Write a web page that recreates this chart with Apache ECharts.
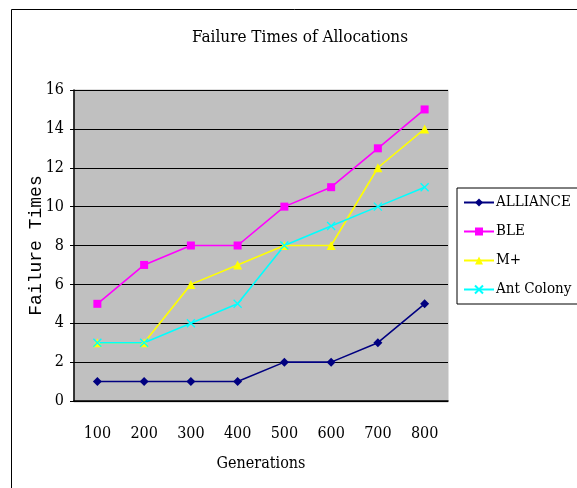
<!DOCTYPE html>
<html>
<head>
<meta charset="utf-8">
<script src="https://cdn.jsdelivr.net/npm/echarts@6/dist/echarts.min.js"></script>
<style>
  html, body { margin: 0; padding: 0; background: #fff; }
  #chart { width: 577px; height: 488px; }
</style>
</head>
<body>
<div id="chart"></div>
<script>
// Failure counts per generation for each allocation method
const generations = ['100', '200', '300', '400', '500', '600', '700', '800'];
const alliance = [1, 1, 1, 1, 2, 2, 3, 5];
const ble = [5, 7, 8, 8, 10, 11, 13, 15];
const mPlus = [3, 3, 6, 7, 8, 8, 12, 14];
const antColony = [3, 3, 4, 5, 8, 9, 10, 11];
const yTicks = [0, 2, 4, 6, 8, 10, 12, 14, 16];

const FONT = '"DejaVu Serif Condensed", "Liberation Serif", serif';
const MONO = '"Liberation Mono", "DejaVu Sans Mono", monospace';
const crossPath = 'path://M0,0L10,10M10,0L0,10';

const chart = echarts.init(document.getElementById('chart'));

function series(name, data, color, symbol, size) {
  return {
    name, type: 'line', data,
    symbol, symbolSize: size,
    z: 5,
    lineStyle: { color, width: 1.6 },
    itemStyle: { color, borderColor: color, borderWidth: symbol === crossPath ? 1.3 : 0 },
    emphasis: { disabled: true },
    animation: false
  };
}

chart.setOption({
  animation: false,
  backgroundColor: '#fff',
  textStyle: { fontFamily: FONT },
  graphic: [
    { type: 'rect', shape: { x: 11.5, y: 9.5, width: 600, height: 600 },
      style: { fill: 'none', stroke: '#000', lineWidth: 1 }, silent: true },
    { type: 'rect', shape: { x: 74.5, y: 90.5, width: 373, height: 311 },
      style: { fill: 'none', stroke: '#808080', lineWidth: 1.5 }, silent: true, z: -1 }
  ],
  title: {
    text: 'Failure Times of Allocations',
    left: 295, top: 24, textAlign: 'center',
    textStyle: { fontFamily: FONT, fontSize: 17, fontWeight: 'normal', color: '#000' }
  },
  legend: {
    orient: 'vertical',
    left: 457, top: 188,
    padding: [7, 8, 7, 6],
    itemGap: 14,
    itemWidth: 30, itemHeight: 10,
    borderColor: '#000', borderWidth: 1,
    backgroundColor: '#fff',
    textStyle: { fontFamily: FONT, fontSize: 15, color: '#000', padding: [0, 0, 0, -3] },
    data: ['ALLIANCE', 'BLE', 'M+', 'Ant Colony']
  },
  grid: { left: 74, right: 129, top: 90, bottom: 87, show: true, backgroundColor: '#c0c0c0', borderWidth: 0 },
  xAxis: {
    type: 'category',
    data: generations,
    boundaryGap: true,
    name: 'Generations',
    nameLocation: 'middle',
    nameGap: 55,
    nameTextStyle: { fontFamily: FONT, fontSize: 16, color: '#000' },
    axisLine: { lineStyle: { color: '#000', width: 1.5 } },
    axisTick: { inside: true, length: 6, lineStyle: { color: '#000' } },
    axisLabel: { margin: 25, fontFamily: FONT, fontSize: 16, color: '#000' }
  },
  yAxis: {
    type: 'value',
    min: yTicks[0], max: yTicks[yTicks.length - 1], interval: 2,
    name: 'Failure Times',
    nameLocation: 'middle',
    nameGap: 29,
    nameMoveOverlap: false,
    nameTextStyle: { fontFamily: MONO, fontSize: 18, color: '#000' },
    axisLine: { show: true, lineStyle: { color: '#000', width: 1.5 } },
    axisTick: { show: true, length: 4, lineStyle: { color: '#000' } },
    axisLabel: { margin: 10, fontFamily: FONT, fontSize: 16, color: '#000' },
    splitLine: { lineStyle: { color: '#000', width: 1 } }
  },
  series: [
    series('ALLIANCE', alliance, '#000080', 'diamond', 9),
    series('BLE', ble, '#ff00ff', 'rect', 8),
    series('M+', mPlus, '#ffff00', 'triangle', 9),
    series('Ant Colony', antColony, '#00ffff', crossPath, 8)
  ]
});
</script>
</body>
</html>
